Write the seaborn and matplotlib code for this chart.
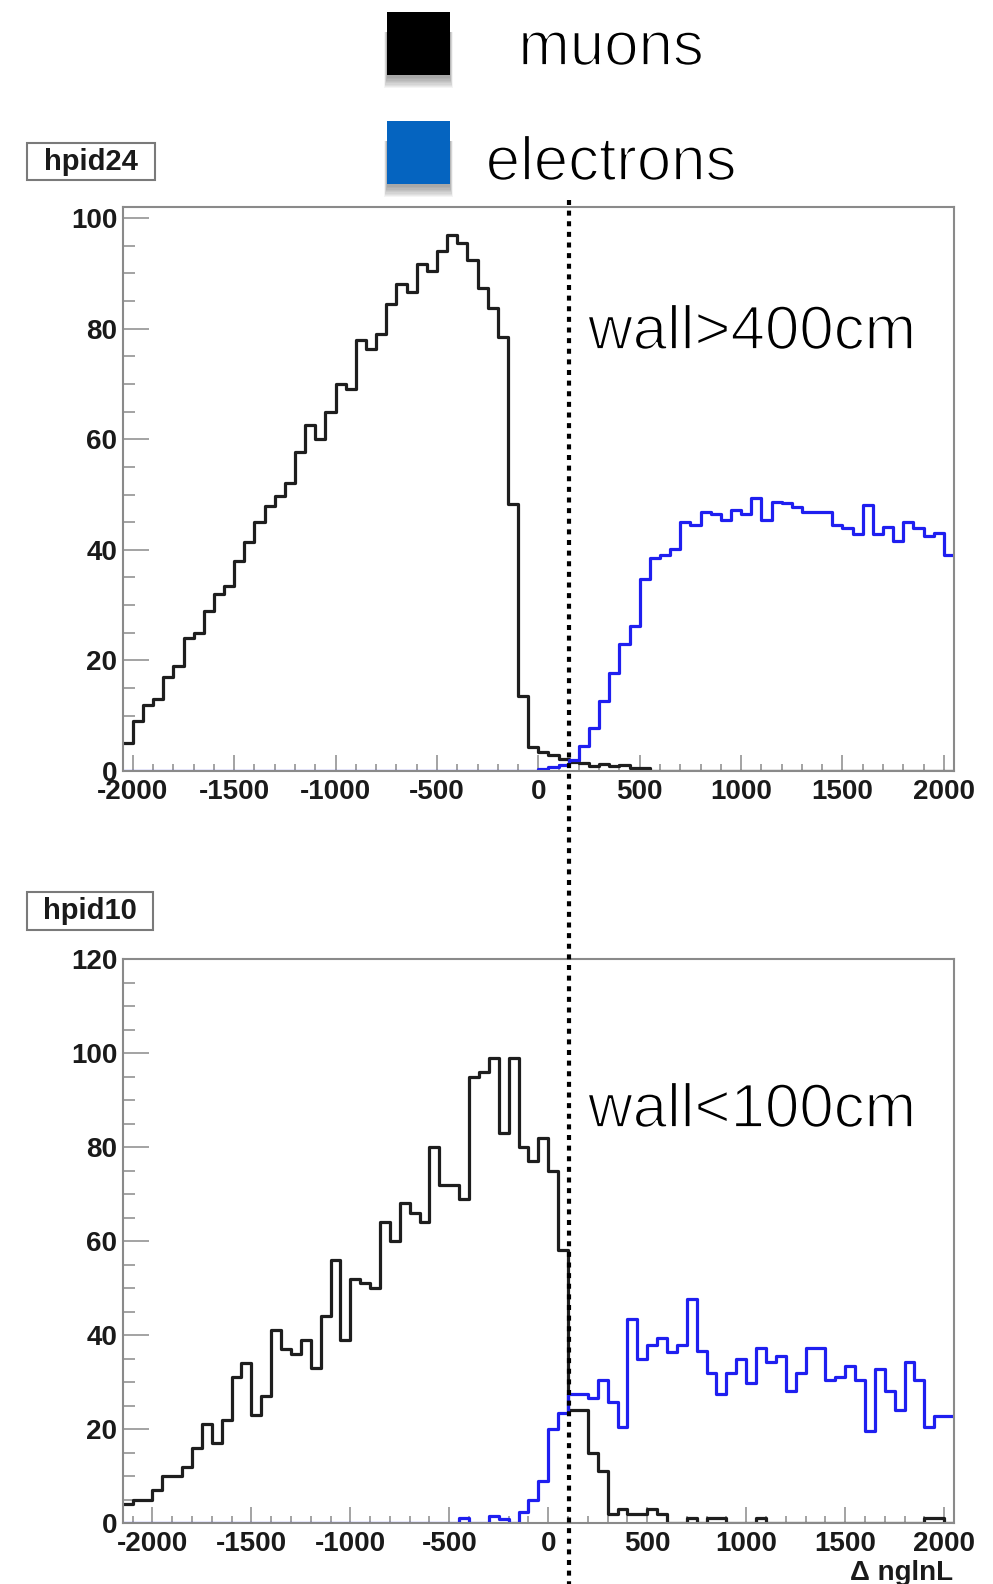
import numpy as np
import pandas as pd
import matplotlib
matplotlib.use("Agg")
import matplotlib.pyplot as plt
import seaborn as sns
from matplotlib.ticker import MultipleLocator, FuncFormatter
from matplotlib.patches import Rectangle
import matplotlib.patheffects as pe

# ---------------------------------------------------------------- data
bin_width = 50

# upper histogram (hpid24, wall > 400 cm): 82 bins from -2050 to 2050
top_range = (-2050, 2050)
top_muons = [5, 9, 12, 13, 17, 19, 24, 25, 29, 32,
             33.5, 38, 41.5, 45, 48, 49.7, 52, 57.7, 62.6, 60,
             65, 70, 69, 78, 76.3, 79, 84.4, 88, 86.7, 91.7,
             90.4, 94, 97, 95.4, 92.5, 87.3, 83.7, 78.5, 48.3, 13.6,
             4.4, 3.4, 2.9, 2.2, 1.7, 1.4, 0.9, 1.2, 0.9, 1.1,
             0.5, 0.5] + [0] * 30
top_electrons = [0] * 41 + [0.3, 0.7, 1.1, 2.0, 4.5, 7.8, 12.7, 17.8, 22.9,
                            26.3, 34.8, 38.6, 39.1, 40.1, 45.0, 44.5, 46.8, 46.4, 45.4,
                            47.2, 46.5, 49.3, 45.4, 48.6, 48.4, 47.8, 46.8, 46.8, 46.8,
                            44.5, 43.9, 42.9, 48.1, 42.9, 44.2, 41.6, 45.0, 43.9, 42.5,
                            43.0, 39.1]

# lower histogram (hpid10, wall < 100 cm): 84 bins from -2150 to 2050
bot_range = (-2150, 2050)
bot_muons = [4, 5, 5, 7, 10, 10, 12, 16, 21, 17,
             22, 31, 34, 23, 27, 41, 37, 36, 39, 33,
             44, 56, 39, 52, 51, 50, 64, 60, 68, 66,
             64, 80, 72, 72, 69, 95, 96, 99, 83, 99,
             80, 77, 82, 75, 58, 24, 24, 15, 11, 2,
             3, 2, 2, 3, 2, 0, 0, 1, 0, 1,
             1, 0, 0, 0, 1] + [0] * 16 + [1, 1, 0]
bot_electrons = [0] * 34 + [1, 0, 0, 1.4, 0.8, 0, 2.4, 5, 9, 20,
                            23.5, 27.4, 27.4, 26.6, 30.4, 25.8, 20.4, 43.3, 35, 37.8,
                            39.4, 36.4, 37.8, 47.7, 36.7, 31.9, 27.5, 31.9, 35, 29.8,
                            37.3, 34.2, 35.5, 28.1, 31.9, 37.3, 37.3, 30.4, 31.1, 33.5,
                            30.4, 19.6, 32.8, 28.1, 24.1, 34.2, 30.4, 20.4, 22.7, 22.7]

panel_titles = ["hpid24", "hpid10"]
cut_labels = ["wall>400cm", "wall<100cm"]
y_limits = [102, 120]
legend_labels = ["muons", "electrons"]
x_axis_title = "\u0394 nglnL"

# ---------------------------------------------------------------- style
W, H, DPI = 993, 1584, 100
MUON_C = "#1e1e1e"
ELEC_C = "#1f1ff0"
LEG_MUON_C = "#000000"
LEG_ELEC_C = "#0564c0"
FRAME_C = "#8a8a8a"
TICK_FS = 20

sns.set_theme(style="white")
plt.rcParams["font.family"] = ["Liberation Sans", "DejaVu Sans"]
plt.rcParams["axes.unicode_minus"] = False

fig = plt.figure(figsize=(W / DPI, H / DPI), dpi=DPI)
fig.patch.set_facecolor("white")


def fx(x):
    return x / W


def fy(y):
    return 1 - y / H


def add_panel(rect_px, lo_hi, muons, electrons, ymax):
    left, top, right, bottom = rect_px
    ax = fig.add_axes([fx(left), fy(bottom), (right - left) / W, (bottom - top) / H])
    lo, hi = lo_hi
    edges = np.arange(lo, hi + bin_width, bin_width)
    centers = edges[:-1] + bin_width / 2
    df = pd.DataFrame({"dnglnl": centers,
                       "muons": np.asarray(muons, float),
                       "electrons": np.asarray(electrons, float)})
    bins = [float(e) for e in edges]
    sns.histplot(data=df, x="dnglnl", weights="muons", bins=bins, element="step",
                 fill=False, color=MUON_C, linewidth=2.3, ax=ax)
    sns.histplot(data=df, x="dnglnl", weights="electrons", bins=bins, element="step",
                 fill=False, color=ELEC_C, linewidth=2.3, ax=ax)
    ax.set_xlim(lo, hi)
    ax.set_ylim(0, ymax)
    ax.set_xlabel("")
    ax.set_ylabel("")
    ax.xaxis.set_major_locator(MultipleLocator(500))
    ax.xaxis.set_minor_locator(MultipleLocator(100))
    ax.yaxis.set_major_locator(MultipleLocator(20))
    ax.yaxis.set_minor_locator(MultipleLocator(5))
    ax.xaxis.set_major_formatter(FuncFormatter(lambda v, p: f"{int(round(v))}"))
    ax.yaxis.set_major_formatter(FuncFormatter(lambda v, p: f"{int(round(v))}"))
    ax.tick_params(which="both", direction="in", top=False, right=False,
                   bottom=True, left=True, color=FRAME_C, labelcolor="#1a1a1a", width=1.1)
    ax.tick_params(axis="y", which="major", length=18.5, pad=4)
    ax.tick_params(axis="y", which="minor", length=8.9)
    ax.tick_params(axis="x", which="major", length=11.3, pad=6)
    ax.tick_params(axis="x", which="minor", length=5.3)
    for lab in ax.get_xticklabels() + ax.get_yticklabels():
        lab.set_fontsize(TICK_FS)
        lab.set_fontweight("bold")
    for sp in ax.spines.values():
        sp.set_color(FRAME_C)
        sp.set_linewidth(1.5)
        sp.set_visible(True)
    ax.set_facecolor("white")
    return ax


ax_top = add_panel((122.7, 207, 954, 771), top_range, top_muons, top_electrons, y_limits[0])
ax_bot = add_panel((122.7, 959, 954, 1523), bot_range, bot_muons, bot_electrons, y_limits[1])


# histogram name boxes
def title_box(x0, y0, x1, y1, text):
    fig.patches.append(Rectangle((fx(x0), fy(y1)), (x1 - x0) / W, (y1 - y0) / H,
                                 transform=fig.transFigure, facecolor="white",
                                 edgecolor="#7a7a7a", linewidth=1.5))
    fig.text(fx((x0 + x1) / 2), fy((y0 + y1) / 2), text, ha="center", va="center",
             fontsize=21, fontweight="bold", color="#1a1a1a")


title_box(27, 143, 155, 180, panel_titles[0])
title_box(27, 892, 153, 930, panel_titles[1])

# thin display lettering: regular face slimmed by a white outline
thin = [pe.Stroke(linewidth=1.3, foreground="white")]
big_font = dict(fontsize=44.5, family=["Liberation Sans", "DejaVu Sans"], color="black",
                path_effects=thin)


def swatch(x0, y0, size, color):
    # soft drop shadow below the square, built from stacked translucent layers
    for i in range(9):
        side = 0.35 * i
        depth = 3 + 1.3 * i
        top = y0 + 20
        bottom = y0 + size + depth
        fig.patches.append(Rectangle((fx(x0 - side), fy(bottom)),
                                     (size + 2 * side) / W, (bottom - top) / H,
                                     transform=fig.transFigure, facecolor="black",
                                     edgecolor="none", alpha=0.045))
    fig.patches.append(Rectangle((fx(x0), fy(y0 + size)), size / W, size / H,
                                 transform=fig.transFigure, facecolor=color,
                                 edgecolor="none"))


swatch(387, 12, 63, LEG_MUON_C)
swatch(387, 121, 63, LEG_ELEC_C)
fig.text(fx(611), fy(65), legend_labels[0], ha="center", va="baseline", **big_font)
fig.text(fx(611), fy(180), legend_labels[1], ha="center", va="baseline", **big_font)

# cut annotations
fig.text(fx(588), fy(349), cut_labels[0], ha="left", va="baseline", **big_font)
fig.text(fx(588), fy(1127), cut_labels[1], ha="left", va="baseline", **big_font)

# dotted separation line spanning both panels
fig.add_artist(plt.Line2D([fx(569), fx(569)], [fy(200), fy(1584)], transform=fig.transFigure,
                          color="black", linewidth=3.0, linestyle=(0, (1.2, 1.35))))

# x-axis title
fig.text(fx(953), fy(1580), x_axis_title, ha="right", va="baseline", fontsize=20,
         fontweight="bold", color="#1a1a1a")

fig.savefig("out.png", dpi=DPI, facecolor="white")
